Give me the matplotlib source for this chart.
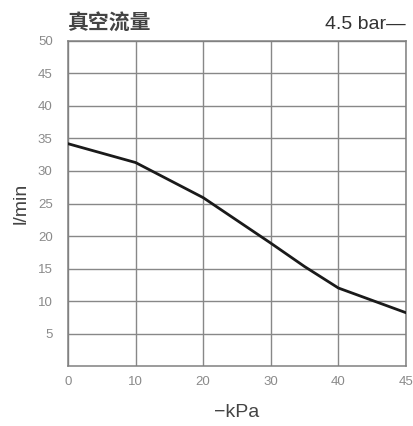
import matplotlib
matplotlib.use("Agg")
import matplotlib.pyplot as plt

plt.rcParams['font.family'] = ['Noto Sans CJK SC', 'DejaVu Sans']

x_kpa = [0, 10, 20, 25, 30, 35, 40, 45]
flow = [34.2, 31.3, 25.9, 22.4, 18.9, 15.3, 12.0, 8.2]
x_ticks = [0, 10, 20, 30, 40, 45]
y_ticks = [5, 10, 15, 20, 25, 30, 35, 40, 45, 50]


def fwd(x):
    import numpy as np
    x = np.asarray(x, dtype=float)
    return np.where(x <= 40, x / 10.0, 4 + (x - 40) / 5.0)


def inv(p):
    import numpy as np
    p = np.asarray(p, dtype=float)
    return np.where(p <= 4, p * 10.0, 40 + (p - 4) * 5.0)


fig = plt.figure(figsize=(4.13, 4.26), dpi=100)
ax = fig.add_axes([0.1646, 0.1408, 0.8184, 0.7630])
ax.set_xscale('function', functions=(fwd, inv))
ax.plot(x_kpa, flow, color='#1a1a1a', lw=2.0, zorder=3)
ax.set_xlim(0, 45)
ax.set_ylim(0, 50)
ax.set_xticks(x_ticks)
ax.set_xticklabels([str(v) for v in x_ticks])
ax.set_xticks([], minor=True)
ax.set_yticks(y_ticks)
ax.grid(True, color='#888888', lw=1.0)
for s in ax.spines.values():
    s.set_color('#808080')
    s.set_linewidth(1.1)
ax.tick_params(length=0, colors='#8a8a8a', labelsize=9.5)
ax.tick_params(axis='x', pad=7)
ax.tick_params(axis='y', pad=11)
for lab in ax.get_xticklabels() + ax.get_yticklabels():
    lab.set_family('Liberation Sans')
ax.set_xlabel('−kPa', fontsize=14, color='#444444', labelpad=12, family='Liberation Sans')
ax.set_ylabel('l/min', fontsize=14, color='#444444', labelpad=6, family='Liberation Sans')
fig.text(0.1646, 0.922, '真空流量', fontsize=15, color='#444444', fontweight='bold', ha='left', va='bottom')
fig.text(0.983, 0.922, '4.5 bar—', fontsize=14, color='#333333', ha='right', va='bottom', family='Liberation Sans')
fig.savefig('out.png', dpi=100)
